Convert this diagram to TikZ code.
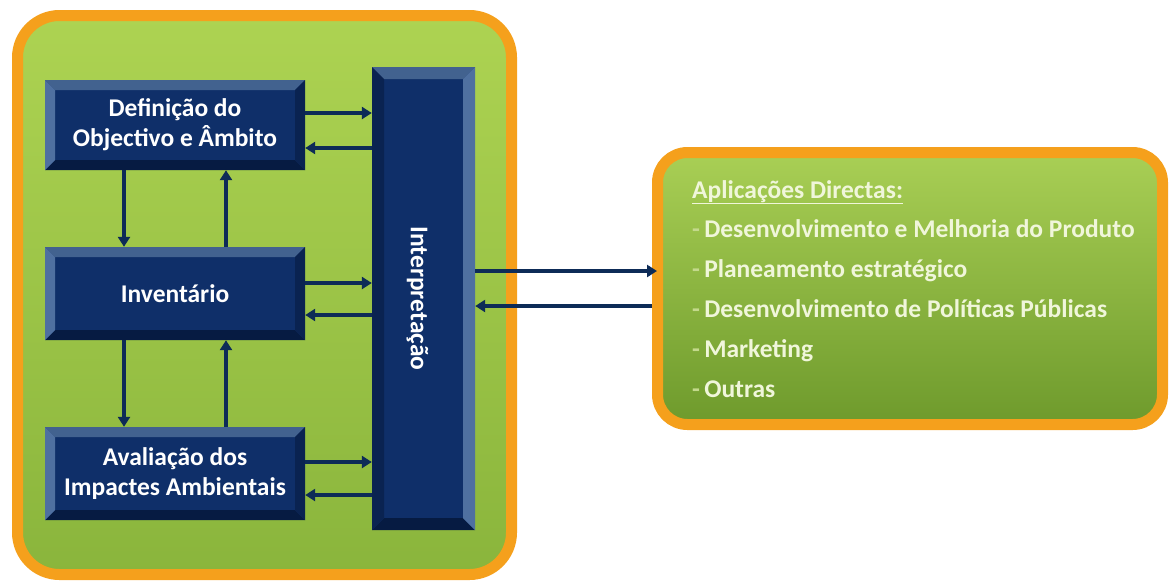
\documentclass[tikz,border=0pt]{standalone}
\usepackage{fontspec}
\setmainfont{Carlito}
\usetikzlibrary{arrows.meta,calc}
\definecolor{orangeb}{HTML}{F5A01C}
\definecolor{greentop}{HTML}{ADD352}
\definecolor{greenbot}{HTML}{8AB53C}
\definecolor{rgtop}{HTML}{A9CF55}
\definecolor{rgbot}{HTML}{6E9A2C}
\definecolor{face}{HTML}{0F2F69}
\definecolor{bvtop}{HTML}{42628F}
\definecolor{bvlight}{HTML}{4F70A0}
\definecolor{bvdark}{HTML}{0A2351}
\definecolor{bvbot}{HTML}{061B42}
\definecolor{arrc}{HTML}{0D2B57}
\definecolor{txtc}{HTML}{F0F6DA}
\definecolor{dashc}{HTML}{C4D98C}
\tikzset{
  framebox/.style={draw=orangeb, line width=11pt},
  bevelbox/.style={fill=face, inner sep=0pt, text=white, align=center,
    font=\fontsize{25.5}{30}\selectfont\bfseries},
  bevelpic/.style n args={3}{path picture={
    \def\bw{#1}
    \fill[bvtop] (path picture bounding box.north west) -- (path picture bounding box.north east)
      -- ([xshift=-\bw,yshift=-\bw]path picture bounding box.north east)
      -- ([xshift=\bw,yshift=-\bw]path picture bounding box.north west) -- cycle;
    \fill[bvbot] (path picture bounding box.south west) -- (path picture bounding box.south east)
      -- ([xshift=-\bw,yshift=\bw]path picture bounding box.south east)
      -- ([xshift=\bw,yshift=\bw]path picture bounding box.south west) -- cycle;
    \fill[#2] (path picture bounding box.north west) -- ([xshift=\bw,yshift=-\bw]path picture bounding box.north west)
      -- ([xshift=\bw,yshift=\bw]path picture bounding box.south west)
      -- (path picture bounding box.south west) -- cycle;
    \fill[#3] (path picture bounding box.north east) -- ([xshift=-\bw,yshift=-\bw]path picture bounding box.north east)
      -- ([xshift=-\bw,yshift=\bw]path picture bounding box.south east)
      -- (path picture bounding box.south east) -- cycle;
  }},
  arr/.style={draw=arrc, line width=3.6pt, -{Triangle[length=10pt,width=12pt]}},
  apptxt/.style={anchor=base west, text=txtc, inner sep=0pt,
    font=\fontsize{25.5}{30}\selectfont\bfseries},
}
\begin{document}
\begin{tikzpicture}[x=1pt,y=-1pt]
\useasboundingbox (0,0) rectangle (1170,582);
% left frame
\node[framebox, rounded corners=42pt, top color=greentop, bottom color=greenbot,
      minimum width=494pt, minimum height=559pt] (lft) at (264.5,295) {};
% right frame
\node[framebox, rounded corners=30pt, top color=rgtop, bottom color=rgbot,
      minimum width=505pt, minimum height=272pt] (app) at (910,288.5) {};
% blue boxes
\node[bevelbox, bevelpic={10pt}{bvlight}{bvdark}, minimum width=260pt, minimum height=90pt]
  (def) at (175,125) {Definição do\\Objectivo e Âmbito};
\node[bevelbox, bevelpic={10pt}{bvlight}{bvdark}, minimum width=260pt, minimum height=93pt]
  (inv) at (175,293.5) {Inventário};
\node[bevelbox, bevelpic={10pt}{bvlight}{bvdark}, minimum width=260pt, minimum height=93pt]
  (ava) at (175,473.5) {Avaliação dos\\Impactes Ambientais};
\node[bevelbox, bevelpic={12pt}{bvdark}{bvlight}, minimum width=103pt, minimum height=463pt]
  (interp) at (423.5,298.5) {};
\node[text=white, rotate=-90, inner sep=0pt, font=\fontsize{25.5}{30}\selectfont\bfseries]
  (interptxt) at ([xshift=-6pt]interp.center) {Interpretação};
% vertical arrows
\draw[arr] ([xshift=-51pt]def.south) -- ([xshift=-51pt]inv.north);
\draw[arr] ([xshift=51pt]inv.north) -- ([xshift=51pt]def.south);
\draw[arr] ([xshift=-51pt]inv.south) -- ([xshift=-51pt]ava.north);
\draw[arr] ([xshift=51pt]ava.north) -- ([xshift=51pt]inv.south);
% horizontal arrows to/from Interpretação
\draw[arr] ([yshift=12pt]def.east) -- ([yshift=12pt]def.east -| interp.west);
\draw[arr] ([yshift=-23pt]def.east -| interp.west) -- ([yshift=-23pt]def.east);
\draw[arr] ([yshift=10.5pt]inv.east) -- ([yshift=10.5pt]inv.east -| interp.west);
\draw[arr] ([yshift=-21.5pt]inv.east -| interp.west) -- ([yshift=-21.5pt]inv.east);
\draw[arr] ([yshift=11.5pt]ava.east) -- ([yshift=11.5pt]ava.east -| interp.west);
\draw[arr] ([yshift=-21.5pt]ava.east -| interp.west) -- ([yshift=-21.5pt]ava.east);
% Interpretação <-> Aplicações
\draw[arr, shorten >=-5pt] ([yshift=27.5pt]interp.east) -- ([yshift=27.5pt]interp.east -| app.west);
\draw[arr] ([yshift=-7.5pt]interp.east -| app.west) -- ([yshift=-7.5pt]interp.east);
% texts
\node[apptxt] (h0) at (692,198) {\underline{Aplicações Directas:}};
\node[apptxt] (l1) at (692,237) {{\color{dashc}-}\,Desenvolvimento e Melhoria do Produto};
\node[apptxt] (l2) at (692,277) {{\color{dashc}-}\,Planeamento estratégico};
\node[apptxt] (l3) at (692,317) {{\color{dashc}-}\,Desenvolvimento de Políticas Públicas};
\node[apptxt] (l4) at (692,357) {{\color{dashc}-}\,Marketing};
\node[apptxt] (l5) at (692,397) {{\color{dashc}-}\,Outras};
\end{tikzpicture}
\end{document}
